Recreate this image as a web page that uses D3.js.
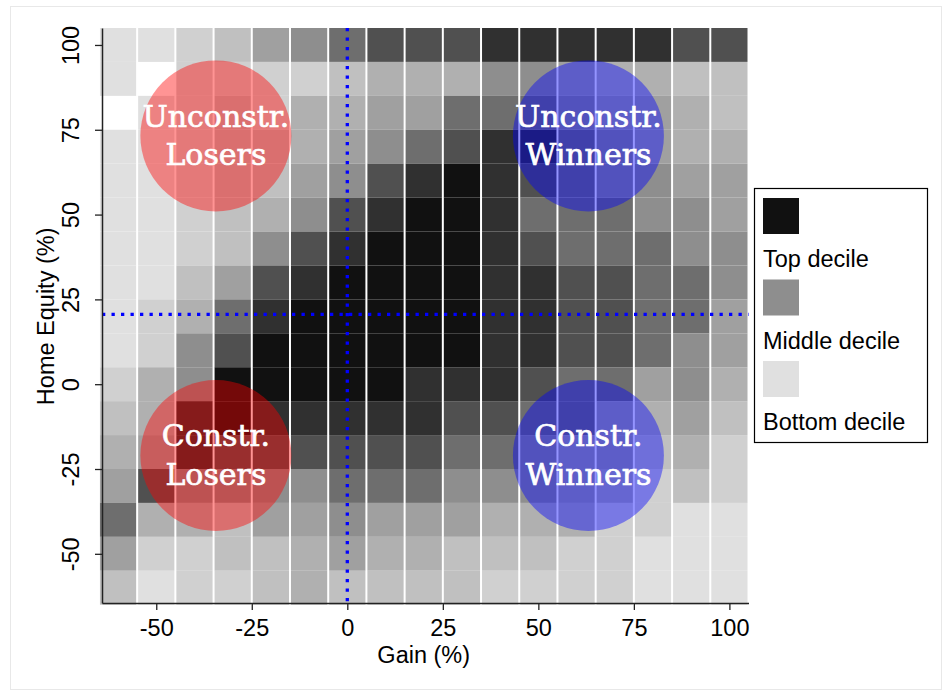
<!DOCTYPE html>
<html>
<head>
<meta charset="utf-8">
<script src="https://cdn.jsdelivr.net/npm/d3@7"></script>
<style>
  body { margin: 0; background: #fff; }
  svg text { font-family: "Liberation Sans", Arial, sans-serif; }
</style>
</head>
<body>
<script>
// bins (centres, width 10)
var gainBins = [-60, -50, -40, -30, -20, -10, 0, 10, 20, 30, 40, 50, 60, 70, 80, 90, 100];
var equityBins = [100, 90, 80, 70, 60, 50, 40, 30, 20, 10, 0, -10, -20, -30, -40, -50, -60];
// decile per cell, one array per gain column, equity 100 -> -60. 0 = no data
var decileM60 = [1, 1, 0, 1, 1, 1, 1, 1, 1, 1, 2, 3, 4, 5, 7, 5, 3];
var decileM50 = [1, 0, 1, 1, 1, 1, 1, 1, 2, 2, 4, 4, 5, 8, 4, 2, 1];
var decileM40 = [2, 2, 2, 2, 2, 2, 2, 3, 4, 6, 6, 9, 9, 6, 4, 2, 2];
var decileM30 = [3, 2, 3, 3, 3, 3, 3, 5, 7, 8, 10, 10, 8, 6, 3, 3, 2];
var decileM20 = [5, 2, 2, 3, 3, 4, 6, 8, 9, 10, 10, 9, 8, 6, 5, 3, 3];
var decileM10 = [6, 2, 4, 4, 5, 6, 8, 9, 10, 10, 10, 9, 8, 6, 5, 4, 4];
var decileP0 = [7, 3, 4, 5, 6, 8, 9, 10, 10, 10, 10, 9, 8, 7, 6, 5, 3];
var decileP10 = [8, 4, 5, 6, 8, 9, 10, 10, 10, 10, 10, 9, 8, 7, 5, 4, 3];
var decileP20 = [8, 4, 5, 7, 9, 10, 10, 10, 10, 10, 9, 9, 8, 7, 5, 4, 3];
var decileP30 = [8, 4, 7, 8, 10, 10, 10, 10, 10, 10, 9, 8, 7, 6, 5, 3, 3];
var decileP40 = [9, 6, 7, 9, 9, 9, 9, 9, 9, 9, 9, 8, 7, 6, 4, 3, 2];
var decileP50 = [9, 6, 7, 9, 8, 7, 8, 9, 9, 9, 8, 7, 6, 6, 4, 3, 2];
var decileP60 = [9, 5, 6, 7, 7, 7, 7, 8, 8, 8, 7, 7, 5, 5, 4, 2, 2];
var decileP70 = [9, 4, 5, 6, 6, 7, 7, 8, 8, 8, 7, 5, 5, 4, 2, 2, 2];
var decileP80 = [9, 4, 5, 5, 6, 6, 7, 7, 7, 7, 5, 4, 3, 2, 2, 1, 1];
var decileP90 = [8, 3, 4, 4, 5, 6, 6, 7, 7, 6, 6, 5, 4, 3, 1, 1, 1];
var decileP100 = [8, 3, 3, 4, 5, 5, 6, 6, 5, 5, 4, 3, 2, 2, 1, 1, 1];
var deciles = [decileM60, decileM50, decileM40, decileM30, decileM20, decileM10, decileP0,
  decileP10, decileP20, decileP30, decileP40, decileP50, decileP60, decileP70, decileP80,
  decileP90, decileP100];

var gainTicks = [-50, -25, 0, 25, 50, 75, 100];
var equityTicks = [-50, -25, 0, 25, 50, 75, 100];
var legendLabels = ["Top decile", "Middle decile", "Bottom decile"];
var legendDeciles = [10, 6, 1];

var quadrantLines = [["Unconstr.", "Losers"], ["Unconstr.", "Winners"], ["Constr.", "Losers"], ["Constr.", "Winners"]];
var quadrantGain = [-34.4, 63.1, -34.4, 63.1];
var quadrantEquity = [73.2, 73.2, -21, -21];
var quadrantSide = ["lose", "win", "lose", "win"];

var meanGain = 0;
var meanEquity = 20.6;

var W = 945, H = 692;
var svg = d3.select("body").append("svg").attr("width", W).attr("height", H);

svg.append("rect").attr("x", 10.5).attr("y", 6.5).attr("width", 931).attr("height", 683)
  .attr("fill", "#fff").attr("stroke", "#e8e8e8");

var x = d3.scaleLinear().domain([-64.2, 105]).range([102, 748.5]);
var y = d3.scaleLinear().domain([-64.5, 105]).range([603, 28]);

var grays = ["#e0e0e0", "#d0d0d0", "#c0c0c0", "#b0b0b0", "#a0a0a0", "#8e8e8e", "#6e6e6e", "#505050", "#303030", "#111111"];
var shade = d3.scaleOrdinal().domain(d3.range(1, 11)).range(grays);

var cells = [];
gainBins.forEach(function (g, i) {
  equityBins.forEach(function (e, j) {
    if (deciles[i][j] > 0) cells.push({ g: g, e: e, d: deciles[i][j] });
  });
});

svg.append("g").selectAll("rect").data(cells).enter().append("rect")
  .attr("x", function (d) { return x(d.g - 5) + 1; })
  .attr("y", function (d) { return y(d.e + 5); })
  .attr("width", function (d) { return x(d.g + 5) - x(d.g - 5) - 2; })
  .attr("height", function (d) { return y(d.e - 5) - y(d.e + 5); })
  .attr("fill", function (d) { return shade(d.d); });

// quadrant circles
var circleColor = d3.scaleOrdinal().domain(["lose", "win"]).range(["rgba(255,0,0,0.42)", "rgba(0,0,255,0.42)"]);
var quad = svg.append("g").selectAll("g").data(quadrantLines).enter().append("g")
  .attr("transform", function (d, i) { return "translate(" + x(quadrantGain[i]) + "," + y(quadrantEquity[i]) + ")"; });
quad.append("circle").attr("r", 75.5)
  .attr("fill", function (d, i) { return circleColor(quadrantSide[i]); });
quad.selectAll("text").data(function (d) { return d; }).enter().append("text")
  .attr("y", function (d, k) { return k === 0 ? -9 : 29.5; })
  .attr("text-anchor", "middle")
  .style("font-family", "'DejaVu Serif', serif")
  .style("font-size", "30px")
  .attr("fill", "#fff")
  .attr("stroke", "#fff").attr("stroke-width", 0.7)
  .text(function (d) { return d; });

// dotted mean lines
svg.append("line")
  .attr("x1", x(meanGain)).attr("x2", x(meanGain)).attr("y1", y(105)).attr("y2", y(-64.5))
  .attr("stroke", "#0000ff").attr("stroke-width", 3.3).attr("stroke-dasharray", "3.3 6.2");
svg.append("line")
  .attr("x1", x(-64.2)).attr("x2", x(105)).attr("y1", y(meanEquity)).attr("y2", y(meanEquity))
  .attr("stroke", "#0000ff").attr("stroke-width", 3.3).attr("stroke-dasharray", "3.3 6.2");

// axes (plain hyphen minus like the original)
var fmt = function (d) { return String(d); };
var xAxis = svg.append("g").attr("transform", "translate(0," + 603 + ")")
  .call(d3.axisBottom(x).tickValues(gainTicks).tickFormat(fmt).tickSize(7).tickSizeOuter(0).tickPadding(9));
var yAxis = svg.append("g").attr("transform", "translate(" + 102 + ",0)")
  .call(d3.axisLeft(y).tickValues(equityTicks).tickFormat(fmt).tickSize(7).tickSizeOuter(0));
[xAxis, yAxis].forEach(function (a) {
  a.select(".domain").attr("stroke", "#222").attr("stroke-width", 1.5);
  a.selectAll(".tick line").attr("stroke", "#222").attr("stroke-width", 1.3);
  a.selectAll("text").style("font-size", "23.5px").attr("fill", "#000")
    .style("font-family", "'Liberation Sans', Arial, sans-serif");
});
yAxis.selectAll(".tick text")
  .attr("transform", "rotate(-90)")
  .attr("x", 0).attr("y", -23).attr("dy", null)
  .attr("text-anchor", "middle");

svg.append("text").attr("x", x(20)).attr("y", 663).attr("text-anchor", "middle")
  .style("font-size", "23.5px").text("Gain (%)");
svg.append("text").attr("transform", "translate(54," + y(20) + ") rotate(-90)")
  .attr("text-anchor", "middle").style("font-size", "23.5px").text("Home Equity (%)");

// legend
var legend = svg.append("g").attr("transform", "translate(754,188)");
legend.append("rect").attr("x", 0.5).attr("y", 0.5).attr("width", 173).attr("height", 254)
  .attr("fill", "#fff").attr("stroke", "#000").attr("stroke-width", 1.2);
var items = legend.selectAll("g.item").data(legendLabels).enter().append("g")
  .attr("transform", function (d, i) { return "translate(9," + (10 + i * 81.5) + ")"; });
items.append("rect").attr("width", 36).attr("height", 36)
  .attr("fill", function (d, i) { return shade(legendDeciles[i]); });
items.append("text").attr("x", 0).attr("y", 69).style("font-size", "23.5px").text(function (d) { return d; });
</script>
</body>
</html>
